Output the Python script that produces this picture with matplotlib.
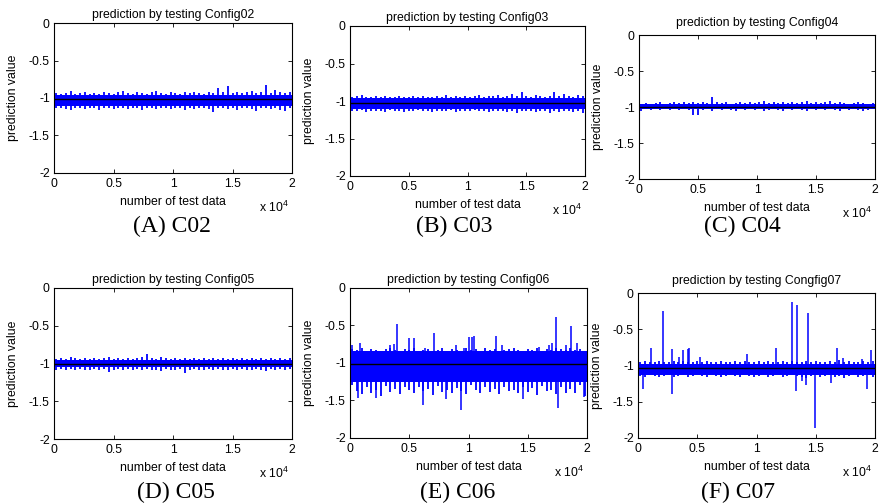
import numpy as np
import matplotlib
matplotlib.use("Agg")
import matplotlib.pyplot as plt

plt.rcParams['font.family'] = ['Liberation Sans', 'DejaVu Sans']
plt.rcParams['axes.unicode_minus'] = False
plt.rcParams['mathtext.default'] = 'regular'

# ---------------- data ----------------
n_total = 20000
x_tick_values = [0, 5000, 10000, 15000, 20000]
x_tick_labels = ['0', '0.5', '1', '1.5', '2']
y_tick_values = [0, -0.5, -1, -1.5, -2]
y_tick_labels = ['0', '-0.5', '-1', '-1.5', '-2']

titles = ['prediction by testing Config02', 'prediction by testing Config03',
          'prediction by testing Config04', 'prediction by testing Config05',
          'prediction by testing Config06', 'prediction by testing Congfig07']
captions = ['(A) C02', '(B) C03', '(C) C04', '(D) C05', '(E) C06', '(F) C07']

# mean level (black line)
means = [-1.015, -1.031, -0.996, -1.002, -1.022, -1.041]
# solid core of the noise band (top, bottom)
core_top = [-0.955, -0.965, -0.955, -0.955, -0.85, -0.975]
core_bottom = [-1.11, -1.11, -1.02, -1.045, -1.26, -1.13]

# envelope of band tips, 50 bins of 400 samples each
upper_c02 = [-0.93, -0.94, -0.93, -0.90, -0.94, -0.93, -0.92, -0.94, -0.93, -0.94,
             -0.92, -0.93, -0.94, -0.92, -0.91, -0.93, -0.94, -0.92, -0.93, -0.94,
             -0.92, -0.91, -0.93, -0.94, -0.92, -0.93, -0.94, -0.92, -0.93, -0.92,
             -0.93, -0.94, -0.92, -0.93, -0.87, -0.92, -0.84, -0.93, -0.92, -0.93,
             -0.92, -0.90, -0.93, -0.92, -0.82, -0.93, -0.89, -0.92, -0.93, -0.92]
lower_c02 = [-1.13, -1.14, -1.15, -1.16, -1.13, -1.14, -1.15, -1.13, -1.14, -1.16,
             -1.13, -1.14, -1.15, -1.14, -1.13, -1.15, -1.14, -1.13, -1.16, -1.14,
             -1.13, -1.15, -1.14, -1.13, -1.15, -1.14, -1.13, -1.16, -1.14, -1.15,
             -1.13, -1.14, -1.15, -1.19, -1.14, -1.13, -1.15, -1.14, -1.16, -1.13,
             -1.14, -1.15, -1.18, -1.14, -1.13, -1.15, -1.14, -1.16, -1.17, -1.14]

upper_c03 = [-0.94, -0.93, -0.92, -0.94, -0.95, -0.93, -0.94, -0.93, -0.95, -0.94,
             -0.93, -0.94, -0.95, -0.93, -0.94, -0.93, -0.94, -0.95, -0.93, -0.94,
             -0.92, -0.94, -0.93, -0.94, -0.93, -0.95, -0.93, -0.92, -0.94, -0.93,
             -0.93, -0.92, -0.94, -0.93, -0.90, -0.93, -0.875, -0.93, -0.94, -0.92,
             -0.93, -0.94, -0.93, -0.88, -0.93, -0.90, -0.93, -0.94, -0.92, -0.93]
lower_c03 = [-1.13, -1.14, -1.12, -1.15, -1.13, -1.14, -1.13, -1.15, -1.12, -1.14,
             -1.13, -1.15, -1.14, -1.13, -1.12, -1.14, -1.13, -1.15, -1.14, -1.13,
             -1.14, -1.12, -1.15, -1.13, -1.14, -1.13, -1.12, -1.14, -1.13, -1.15,
             -1.14, -1.13, -1.14, -1.15, -1.13, -1.16, -1.14, -1.13, -1.14, -1.15,
             -1.13, -1.14, -1.16, -1.13, -1.15, -1.14, -1.13, -1.15, -1.14, -1.16]

upper_c04 = [-0.95, -0.94, -0.95, -0.94, -0.93, -0.95, -0.94, -0.93, -0.94, -0.93,
             -0.94, -0.93, -0.94, -0.93, -0.94, -0.86, -0.93, -0.94, -0.93, -0.95,
             -0.94, -0.93, -0.94, -0.93, -0.94, -0.93, -0.91, -0.94, -0.93, -0.94,
             -0.93, -0.94, -0.93, -0.94, -0.93, -0.92, -0.94, -0.93, -0.94, -0.93,
             -0.92, -0.94, -0.93, -0.94, -0.95, -0.94, -0.93, -0.94, -0.95, -0.94]
lower_c04 = [-1.06, -1.03, -1.04, -1.03, -1.04, -1.03, -1.04, -1.03, -1.04, -1.03,
             -1.04, -1.11, -1.11, -1.04, -1.03, -1.05, -1.03, -1.04, -1.03, -1.04,
             -1.05, -1.03, -1.04, -1.03, -1.04, -1.03, -1.05, -1.04, -1.03, -1.04,
             -1.05, -1.03, -1.04, -1.03, -1.04, -1.05, -1.03, -1.04, -1.03, -1.04,
             -1.03, -1.04, -1.05, -1.03, -1.04, -1.03, -1.04, -1.05, -1.04, -1.03]

upper_c05 = [-0.94, -0.93, -0.94, -0.92, -0.93, -0.94, -0.93, -0.94, -0.93, -0.94,
             -0.93, -0.92, -0.94, -0.93, -0.94, -0.93, -0.94, -0.93, -0.92, -0.88,
             -0.93, -0.94, -0.92, -0.93, -0.94, -0.93, -0.94, -0.93, -0.94, -0.93,
             -0.94, -0.93, -0.94, -0.93, -0.94, -0.93, -0.94, -0.93, -0.94, -0.93,
             -0.94, -0.93, -0.94, -0.93, -0.94, -0.93, -0.94, -0.93, -0.94, -0.93]
lower_c05 = [-1.08, -1.07, -1.09, -1.07, -1.08, -1.07, -1.08, -1.09, -1.07, -1.08,
             -1.07, -1.11, -1.08, -1.07, -1.09, -1.07, -1.08, -1.07, -1.08, -1.07,
             -1.09, -1.08, -1.10, -1.07, -1.08, -1.09, -1.07, -1.12, -1.08, -1.07,
             -1.09, -1.08, -1.07, -1.08, -1.07, -1.09, -1.08, -1.07, -1.08, -1.07,
             -1.08, -1.09, -1.07, -1.08, -1.10, -1.07, -1.08, -1.07, -1.08, -1.07]

upper_c06 = [-0.82, -0.83, -0.81, -0.84, -0.82, -0.83, -0.84, -0.82, -0.81, -0.83,
             -0.84, -0.82, -0.83, -0.81, -0.84, -0.83, -0.82, -0.84, -0.83, -0.81,
             -0.84, -0.82, -0.83, -0.84, -0.80, -0.83, -0.82, -0.84, -0.81, -0.83,
             -0.82, -0.84, -0.83, -0.82, -0.80, -0.83, -0.84, -0.82, -0.83, -0.81,
             -0.84, -0.82, -0.83, -0.80, -0.82, -0.83, -0.81, -0.83, -0.82, -0.84]
lower_c06 = [-1.30, -1.38, -1.42, -1.33, -1.40, -1.36, -1.44, -1.31, -1.39, -1.35,
             -1.42, -1.33, -1.37, -1.41, -1.32, -1.38, -1.35, -1.43, -1.31, -1.39,
             -1.36, -1.41, -1.34, -1.38, -1.42, -1.30, -1.37, -1.40, -1.33, -1.39,
             -1.35, -1.42, -1.32, -1.38, -1.36, -1.41, -1.33, -1.39, -1.34, -1.43,
             -1.31, -1.38, -1.36, -1.42, -1.33, -1.40, -1.35, -1.41, -1.30, -1.44]

upper_c07 = [-0.95, -0.94, -0.96, -0.95, -0.94, -0.95, -0.96, -0.94, -0.95, -0.94,
             -0.95, -0.96, -0.94, -0.95, -0.94, -0.96, -0.95, -0.94, -0.95, -0.96,
             -0.94, -0.95, -0.94, -0.95, -0.96, -0.94, -0.95, -0.94, -0.95, -0.96,
             -0.94, -0.95, -0.94, -0.95, -0.96, -0.94, -0.95, -0.94, -0.95, -0.96,
             -0.94, -0.95, -0.93, -0.95, -0.94, -0.95, -0.96, -0.94, -0.95, -0.94]
lower_c07 = [-1.15, -1.16, -1.14, -1.15, -1.16, -1.15, -1.14, -1.16, -1.15, -1.14,
             -1.16, -1.15, -1.14, -1.15, -1.16, -1.14, -1.15, -1.16, -1.15, -1.14,
             -1.15, -1.16, -1.14, -1.15, -1.16, -1.15, -1.14, -1.16, -1.15, -1.14,
             -1.16, -1.15, -1.14, -1.15, -1.16, -1.17, -1.15, -1.14, -1.16, -1.15,
             -1.14, -1.16, -1.15, -1.17, -1.15, -1.14, -1.16, -1.15, -1.14, -1.16]

# isolated spikes (sample index, value)
spike_x_c06 = [170, 840, 3380, 3680, 3940, 5010, 5440, 6330, 7110, 8950, 9650,
               10070, 10290, 10490, 12320, 12830, 15920, 16770, 17020, 17380,
               18230, 18650, 19160,
               650, 2190, 6140, 8100, 9370, 14570, 17530, 19770]
spike_y_c06 = [-0.76, -0.74, -0.76, -0.75, -0.49, -0.67, -0.67, -0.80, -0.60, -0.77, -0.80,
               -0.66, -0.66, -0.65, -0.64, -0.76, -0.79, -0.77, -0.74, -0.39,
               -0.77, -0.51, -0.74,
               -1.47, -1.47, -1.56, -1.49, -1.635, -1.48, -1.61, -1.46]
spike_x_c07 = [1125, 2110, 2840, 3460, 3800, 4220, 4300, 5200, 9170, 11620, 13020,
               13440, 14370, 16820, 17300, 18930, 19660,
               450, 2840, 13360, 13850, 14200, 14910, 16290, 19300]
spike_y_c07 = [-0.76, -0.25, -0.78, -0.88, -0.79, -0.77, -0.76, -0.88, -0.84, -0.76, -0.13,
               -0.17, -0.27, -0.76, -0.90, -0.91, -0.79,
               -1.32, -1.40, -1.35, -1.21, -1.27, -1.86, -1.25, -1.33]

uppers = [upper_c02, upper_c03, upper_c04, upper_c05, upper_c06, upper_c07]
lowers = [lower_c02, lower_c03, lower_c04, lower_c05, lower_c06, lower_c07]
spikes_x = [[], [], [], [], spike_x_c06, spike_x_c07]
spikes_y = [[], [], [], [], spike_y_c06, spike_y_c07]

# ---------------- layout ----------------
W, H = 880, 503
# axes boxes in pixels: left, top, right, bottom
boxes = [(54, 23.3, 292, 172.7), (350, 26, 585, 176), (639, 35.3, 875, 179),
         (54, 287.7, 292, 439.3), (350, 287.7, 587, 437.7), (638, 293, 875, 437.7)]
title_pad_px = [5, 5.3, 9, 5, 5, 8.7]
caption_pos = [(172, 232), (454, 231.7), (742.5, 231.7),
               (176, 498.3), (458, 497.7), (738, 498.3)]

fig = plt.figure(figsize=(W / 100, H / 100), dpi=100)
blue = (0, 0, 1)
fs = 8.8

for i in range(6):
    l, t, r, b = boxes[i]
    ax = fig.add_axes([l / W, 1 - b / H, (r - l) / W, (b - t) / H])
    up = np.array(uppers[i])
    lo = np.array(lowers[i])
    nb = len(up)
    xb = (np.arange(nb) + 0.5) * (n_total / nb)
    ax.fill_between([0, n_total], [core_top[i]] * 2, [core_bottom[i]] * 2,
                    color=blue, lw=0, zorder=2)
    ax.vlines(xb, lo, up, color=blue, lw=1.3, zorder=2)
    if spikes_x[i]:
        ax.vlines(spikes_x[i], means[i], spikes_y[i], color=blue, lw=1.1, zorder=2)
    ax.axhline(means[i], color='black', lw=1.0, zorder=3)

    ax.set_xlim(0, n_total)
    ax.set_ylim(-2, 0)
    ax.set_xticks(x_tick_values)
    ax.set_xticklabels(x_tick_labels)
    ax.set_yticks(y_tick_values)
    ax.set_yticklabels(y_tick_labels)
    ax.tick_params(direction='in', length=3, width=0.6, top=True, right=True,
                   labelsize=fs, colors='black')
    ax.tick_params(axis='x', pad=3.5)
    ax.tick_params(axis='y', pad=3)
    for sp in ax.spines.values():
        sp.set_linewidth(0.8)
        sp.set_color('black')

    ax.set_title(titles[i], fontsize=fs, pad=title_pad_px[i] * 0.72)
    ax.set_xlabel('number of test data', fontsize=fs)
    ax.set_ylabel('prediction value', fontsize=fs)
    hpx = b - t
    wpx = r - l
    ax.xaxis.set_label_coords(0.5, -23 / hpx)
    ax.yaxis.set_label_coords(-35 / wpx, 0.5)
    ax.text(1 - 3 / wpx, -39 / hpx, r'x 10$^{4}$', transform=ax.transAxes,
            ha='right', va='baseline', fontsize=fs)

    cx, cy = caption_pos[i]
    fig.text(cx / W, 1 - cy / H, captions[i], ha='center', va='baseline',
             fontsize=17, family=['Liberation Serif', 'DejaVu Serif'])

fig.savefig('out.png', dpi=100)
